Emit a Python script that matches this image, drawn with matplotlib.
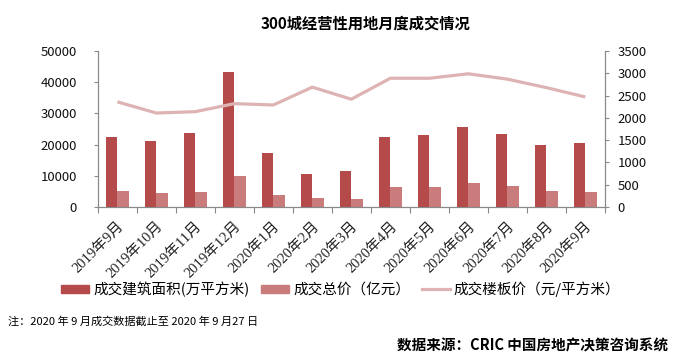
import matplotlib
matplotlib.use("Agg")
import matplotlib.pyplot as plt
import numpy as np
from matplotlib.lines import Line2D
from matplotlib.patches import Patch

plt.rcParams['font.family'] = ['Noto Sans CJK SC', 'DejaVu Sans']

months = ["2019年9月", "2019年10月", "2019年11月", "2019年12月", "2020年1月", "2020年2月",
          "2020年3月", "2020年4月", "2020年5月", "2020年6月", "2020年7月", "2020年8月", "2020年9月"]
area = [22500, 21300, 23800, 43400, 17400, 10700, 11600, 22500, 23200, 25700, 23500, 20000, 20600]
total_price = [5200, 4600, 4900, 10000, 3950, 3000, 2700, 6500, 6500, 7800, 6850, 5250, 4900]
floor_price = [2360, 2110, 2140, 2320, 2290, 2690, 2420, 2890, 2890, 2990, 2870, 2680, 2470]

c_area = "#B44A4A"
c_price = "#CA7B7B"
c_line = "#DEB3B3"
spine_c = "#898989"

fig = plt.figure(figsize=(6.75, 3.57), dpi=100)
ax = fig.add_axes([0.145, 0.420, 0.751, 0.437])
ax2 = ax.twinx()

x = np.arange(len(months))
w = 0.29
ax.bar(x - w / 2, area, width=w, color=c_area, zorder=2)
ax.bar(x + w / 2, total_price, width=w, color=c_price, zorder=2)
ax2.plot(x, floor_price, color=c_line, lw=2.3, zorder=3, solid_capstyle='butt')

ax.set_xlim(-0.5, len(months) - 0.5)
ax.set_ylim(0, 50000)
ax.set_yticks(range(0, 50001, 10000))
ax2.set_ylim(0, 3500)
ax2.set_yticks(range(0, 3501, 500))

for a in (ax, ax2):
    a.spines['top'].set_visible(False)
    for s in ('left', 'right', 'bottom'):
        a.spines[s].set_color(spine_c)
        a.spines[s].set_linewidth(0.8)
    a.tick_params(axis='y', colors=spine_c, labelcolor='#111111', labelsize=9.5, length=3, width=0.8)
ax.tick_params(axis='y', pad=12)
ax2.tick_params(axis='y', pad=6)

ax.set_xticks(np.arange(-0.5, len(months)), minor=False)
ax.set_xticklabels([])
ax.set_xticks(x, minor=True)
ax.set_xticklabels(months, minor=True, rotation=45, ha='right', va='top',
                   rotation_mode='anchor', fontsize=10.5,
                   family=['Liberation Serif', 'Noto Sans CJK SC'])
ax.tick_params(axis='x', which='major', length=4, width=0.8, colors=spine_c)
ax.tick_params(axis='x', which='minor', length=0, pad=9, labelcolor='#222222')
ax2.patch.set_visible(False)

fig.text(0.542, 0.935, "300城经营性用地月度成交情况", ha='center', va='center',
         fontsize=11, fontweight='bold')

handles = [Patch(color=c_area), Patch(color=c_price), Line2D([0], [0], color=c_line, lw=2.3)]
labels = ["成交建筑面积(万平方米)", "成交总价（亿元）", "成交楼板价（元/平方米）"]
fig.legend(handles, labels, loc='center', bbox_to_anchor=(0.505, 0.19), ncol=3,
           frameon=False, fontsize=10.5, handlelength=1.9, handleheight=0.5,
           columnspacing=0.8, handletextpad=0.3)

fig.text(0.012, 0.10, "注：2020 年 9 月成交数据截止至 2020 年 9 月27 日", ha='left', va='center',
         fontsize=8)
fig.text(0.99, 0.033, "数据来源：CRIC 中国房地产决策咨询系统", ha='right', va='center',
         fontsize=10.5, fontweight='bold')

fig.savefig("out.png", dpi=100)
